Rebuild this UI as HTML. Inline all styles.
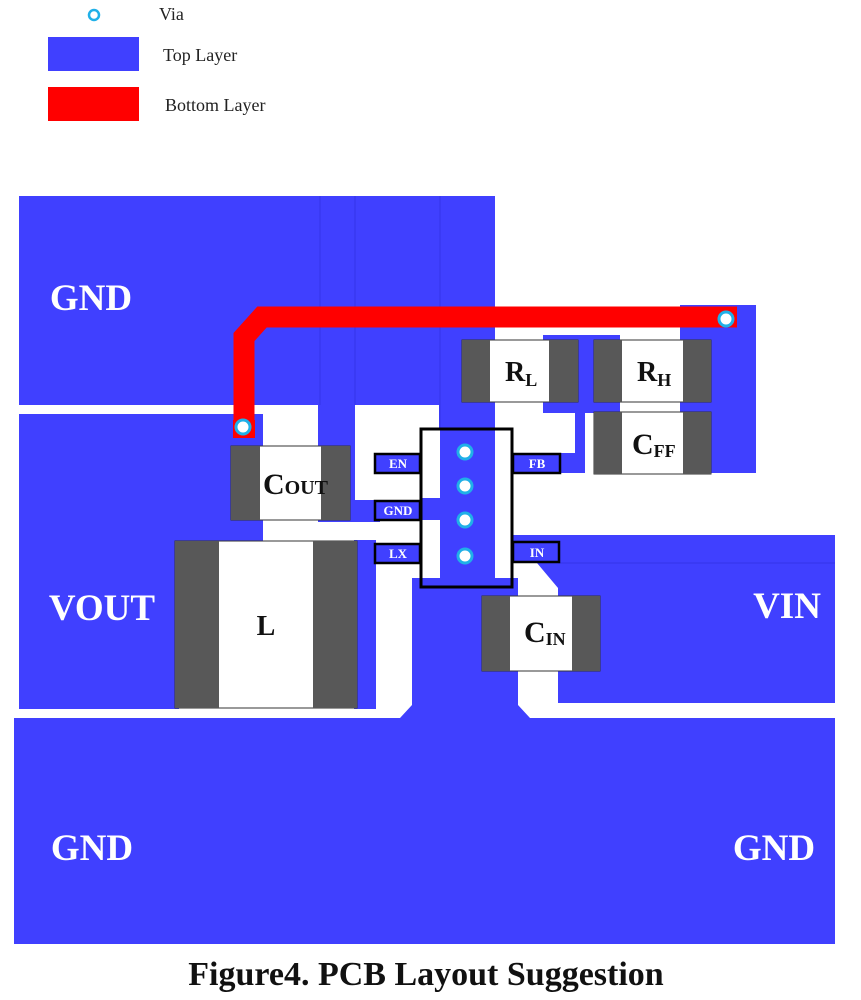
<!DOCTYPE html>
<html><head><meta charset="utf-8"><style>
html,body{margin:0;padding:0;background:#fff;}
svg{display:block;font-family:"Liberation Serif",serif;}
</style></head><body>
<svg width="861" height="1000" viewBox="0 0 861 1000" xmlns="http://www.w3.org/2000/svg">
<!-- legend -->
<circle cx="94" cy="15" r="5" fill="#fff" stroke="#20b0e8" stroke-width="2.5"/>
<text x="159" y="20" font-size="18" fill="#222">Via</text>
<rect x="48" y="37" width="91" height="34" fill="#4040ff"/>
<text x="163" y="61" font-size="18" fill="#222">Top Layer</text>
<rect x="48" y="87" width="91" height="34" fill="#ff0000"/>
<text x="165" y="111" font-size="18" fill="#222">Bottom Layer</text>

<g fill="#4040ff">
<rect x="19" y="196" width="476" height="209"/>
<rect x="318" y="400" width="37" height="122"/>
<rect x="439" y="400" width="56" height="30"/>
<rect x="543" y="335" width="77" height="78"/>
<rect x="575" y="410" width="10" height="63"/>
<rect x="560" y="453" width="20" height="20"/>
<rect x="680" y="305" width="76" height="168"/>
<rect x="19" y="414" width="244" height="130"/>
<rect x="19" y="540" width="160" height="169"/>
<rect x="345" y="500" width="35" height="22"/>
<rect x="354" y="540" width="22" height="169"/>
<polygon points="513,535 835,535 835,703 558,703 558,588 537,563 513,563"/>
<polygon points="412,578 518,578 518,705 530,718 400,718 412,705"/>
<rect x="14" y="718" width="821" height="226"/>
</g>
<g stroke="#3535e8" stroke-width="1">
<line x1="320" y1="196" x2="320" y2="405"/>
<line x1="355" y1="196" x2="355" y2="405"/>
<line x1="440" y1="196" x2="440" y2="430"/>
<line x1="558" y1="563" x2="835" y2="563"/>
</g>

<path d="M244,438 L244,337 L262,317 L737,317" fill="none" stroke="#ff0000" stroke-width="21"/>
<rect x="233" y="420" width="22" height="18" fill="#ff0000"/>
<circle cx="243" cy="427" r="7" fill="#fff" stroke="#20b0e8" stroke-width="3"/>
<circle cx="726" cy="319" r="7" fill="#fff" stroke="#20b0e8" stroke-width="3"/>

<g stroke="#333" stroke-width="1">
<rect x="231" y="446" width="119" height="74" fill="#fff"/>
<rect x="175" y="541" width="182" height="167" fill="#fff"/>
<rect x="462" y="340" width="116" height="62" fill="#fff"/>
<rect x="594" y="340" width="117" height="62" fill="#fff"/>
<rect x="594" y="412" width="117" height="62" fill="#fff"/>
<rect x="482" y="596" width="118" height="75" fill="#fff"/>
</g>
<g fill="#585858">
<rect x="231" y="446" width="29" height="74"/><rect x="321" y="446" width="29" height="74"/>
<rect x="175" y="541" width="44" height="167"/><rect x="313" y="541" width="44" height="167"/>
<rect x="462" y="340" width="28" height="62"/><rect x="549" y="340" width="29" height="62"/>
<rect x="594" y="340" width="28" height="62"/><rect x="683" y="340" width="28" height="62"/>
<rect x="594" y="412" width="28" height="62"/><rect x="683" y="412" width="28" height="62"/>
<rect x="482" y="596" width="28" height="75"/><rect x="572" y="596" width="28" height="75"/>
</g>
<g font-weight="bold" fill="#111">
<text x="263" y="494" font-size="30">C<tspan font-size="20">OUT</tspan></text>
<text x="266" y="635" font-size="28" text-anchor="middle">L</text>
<text x="505" y="381" font-size="28">R<tspan font-size="18" dy="5">L</tspan></text>
<text x="637" y="381" font-size="28">R<tspan font-size="18" dy="5">H</tspan></text>
<text x="632" y="454" font-size="30">C<tspan font-size="18" dy="3">FF</tspan></text>
<text x="524" y="642" font-size="30">C<tspan font-size="18" dy="3">IN</tspan></text>
</g>

<rect x="421" y="429" width="91" height="158" fill="#fff"/>
<rect x="440" y="430" width="55" height="156" fill="#4040ff"/>
<rect x="422" y="498" width="18" height="22" fill="#4040ff"/>
<rect x="413" y="578" width="98" height="8" fill="#4040ff"/>
<rect x="421" y="429" width="91" height="158" fill="none" stroke="#000" stroke-width="3"/>
<g fill="#4040ff" stroke="#000" stroke-width="2.5">
<rect x="375" y="454" width="45" height="19"/>
<rect x="375" y="501" width="45" height="19"/>
<rect x="375" y="544" width="45" height="19"/>
<rect x="513" y="454" width="47" height="19"/>
<rect x="513" y="542" width="46" height="20"/>
</g>
<g font-size="13" font-weight="bold" fill="#fff" text-anchor="middle">
<text x="398" y="468">EN</text>
<text x="398" y="515">GND</text>
<text x="398" y="558">LX</text>
<text x="537" y="468">FB</text>
<text x="537" y="557">IN</text>
</g>
<g fill="#fff" stroke="#20b0e8" stroke-width="3">
<circle cx="465" cy="452" r="7"/>
<circle cx="465" cy="486" r="7"/>
<circle cx="465" cy="520" r="7"/>
<circle cx="465" cy="556" r="7"/>
</g>

<g font-weight="bold" fill="#fff" font-size="37">
<text x="91" y="310" text-anchor="middle">GND</text>
<text x="102" y="620" text-anchor="middle">VOUT</text>
<text x="787" y="618" text-anchor="middle">VIN</text>
<text x="92" y="860" text-anchor="middle">GND</text>
<text x="774" y="860" text-anchor="middle">GND</text>
</g>
<text x="426" y="985" font-size="34" font-weight="bold" fill="#111" text-anchor="middle">Figure4. PCB Layout Suggestion</text>
</svg>
</body></html>
